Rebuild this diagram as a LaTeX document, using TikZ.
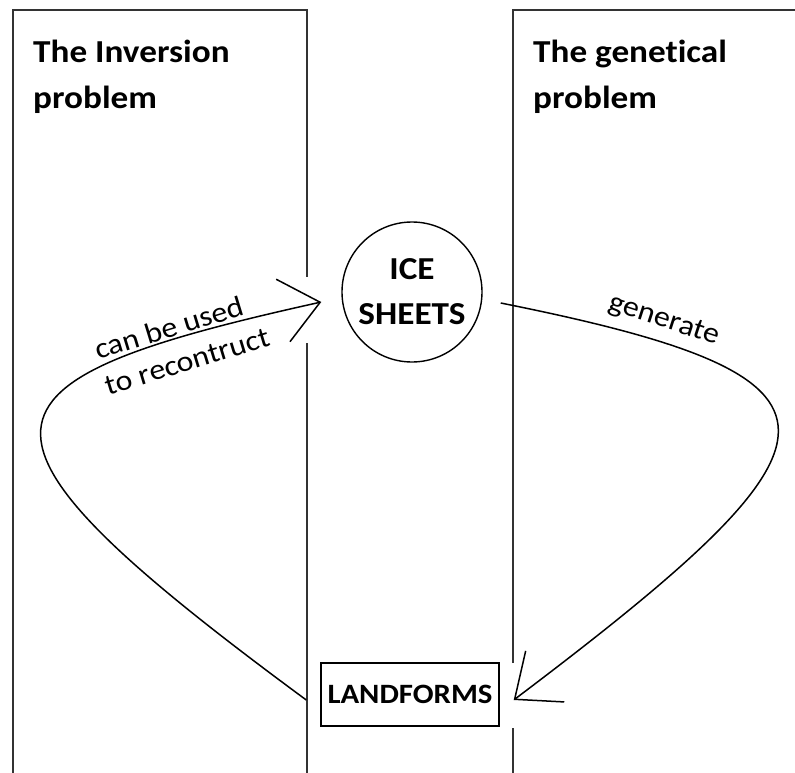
\documentclass[tikz,border=0pt]{standalone}
\usepackage{fontspec}
\setmainfont{Carlito}[FakeStretch=1.1,Ligatures={NoCommon,NoRare,NoContextual}]
\usetikzlibrary{arrows.meta}
\begin{document}
\begin{tikzpicture}[x=1pt,y=-1pt,
    frame/.style={draw=black!80,line width=1.6pt},
    heading/.style={font=\fontsize{32}{46}\selectfont\bfseries,align=left,anchor=north west,inner sep=0pt},
    thing/.style={draw,line width=1.4pt,inner sep=0pt,align=center,font=\fontsize{32}{45}\selectfont\bfseries},
    lbl/.style={font=\fontsize{29}{37}\selectfont,inner sep=0pt},
    link/.style={line width=1.5pt,-{Straight Barb[length=38pt,width=64pt]}}]
    \useasboundingbox (0,0) rectangle (795,773);
    \draw[frame](13,773)--(13,10)--(307,10)--(307,277);
    \draw[frame](307,343)--(307,773);
    \draw[frame](513,773)--(513,728);
    \draw[frame](513,663)--(513,10)--(795,10);
    \node[heading] (inversion) at (33,40) {The Inversion\\problem};
    \node[heading] (genetical) at (533,40) {The genetical\\problem};
    \node[thing,circle,minimum size=140pt] (ice) at (412,292) {ICE\\SHEETS};
    \node[thing,minimum width=178pt,minimum height=63pt,font=\fontsize{28}{35}\selectfont\bfseries] (land) at (410,694.5) {LANDFORMS};
    \coordinate (invstart) at ([shift={(-14,5.5)}]land.west);
    \coordinate (invtip) at ([shift={(-20,10)}]ice.west);
    \coordinate (genstart) at ([shift={(18,11)}]ice.east);
    \coordinate (gentip) at ([shift={(14,5.5)}]land.east);
    \draw[link](invstart) .. controls (-60,430) and (-40,382) .. (invtip);
    \draw[link](genstart) .. controls (875,378) and (862,437) .. (gentip);
    \node[lbl,rotate=17,align=left] (invlabel) at (182,343) {can be used\\to recontruct};
    \node[lbl,rotate=-18,anchor=base] (genlabel) at (662,327) {generate};
\end{tikzpicture}
\end{document}
